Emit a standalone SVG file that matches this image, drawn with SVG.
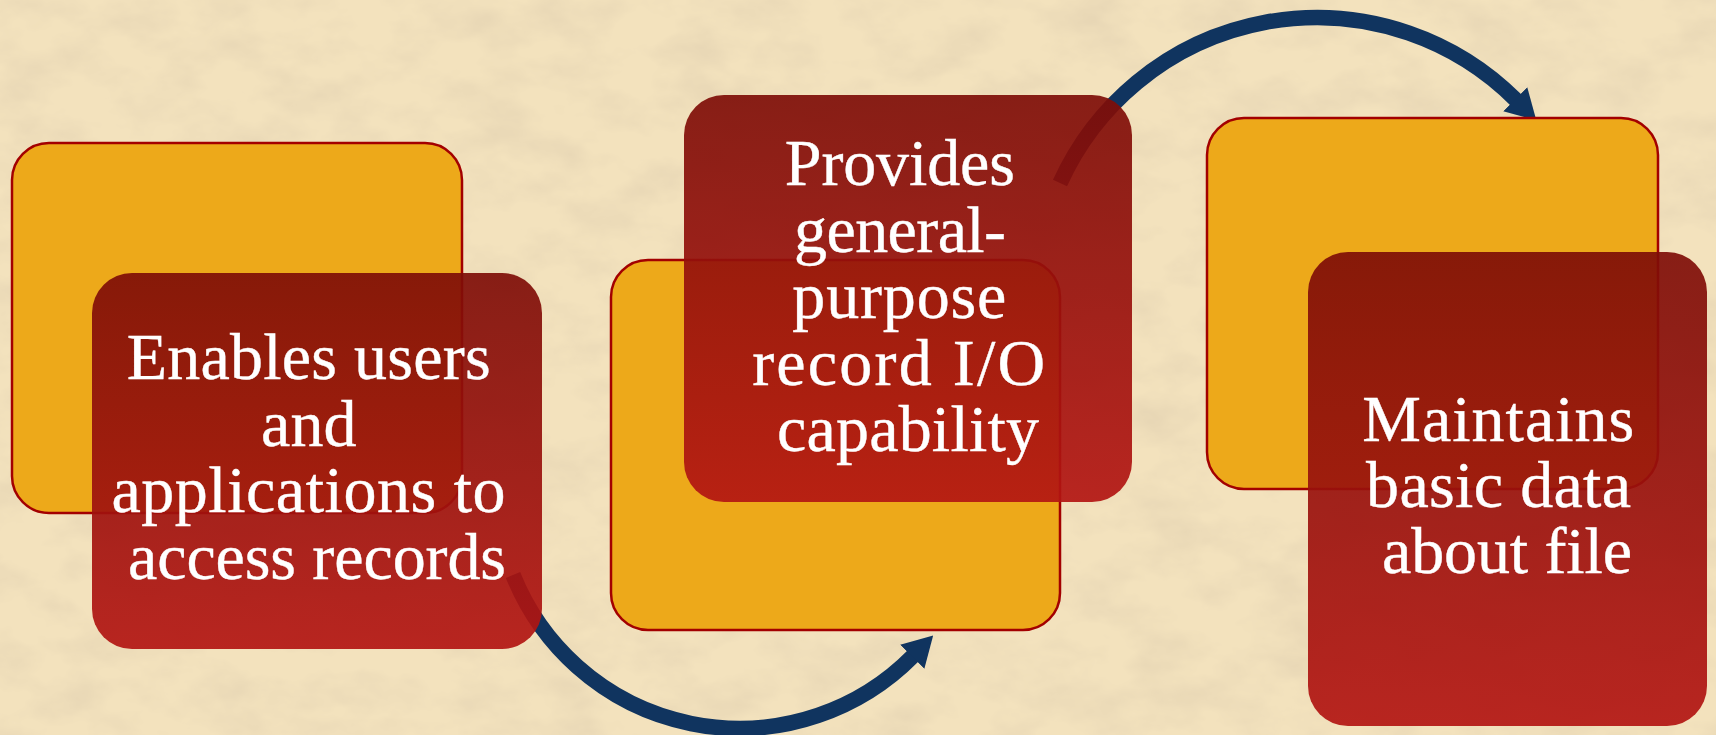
<svg xmlns="http://www.w3.org/2000/svg" width="1716" height="735" viewBox="0 0 1716 735">
  <defs>
    <linearGradient id="redGrad" x1="0" y1="0" x2="0" y2="1">
      <stop offset="0" stop-color="#7e0d07"/>
      <stop offset="1" stop-color="#b31512"/>
    </linearGradient>
    <filter id="paper" x="0" y="0" width="100%" height="100%" filterUnits="userSpaceOnUse">
      <feTurbulence type="fractalNoise" baseFrequency="0.015 0.025" numOctaves="4" seed="7" result="n"/>
      <feColorMatrix in="n" type="matrix" values="0 0 0 0 0.72  0 0 0 0 0.60  0 0 0 0 0.42  1.0 0 0 0 -0.40"/>
    </filter>
    <marker id="head" markerUnits="userSpaceOnUse" markerWidth="30" markerHeight="34" viewBox="0 0 28 32" refX="1" refY="16" orient="auto">
      <path d="M0,0 L28,16 L0,32 Z" fill="#10345f"/>
    </marker>
    <style>
      .orange { fill: #eda91a; stroke: #a30000; stroke-width: 2.5; }
      .red { fill: url(#redGrad); opacity: 0.92; }
      .label { font-family: "Liberation Serif", "Times New Roman", serif; font-size: 66px; fill: #ffffff; stroke: #ffffff; stroke-width: 0.4; text-anchor: middle; }
      .arc { fill: none; stroke: #10345f; stroke-width: 15.5; marker-end: url(#head); }
    </style>
  </defs>

  <g id="background">
    <rect x="0" y="0" width="1716" height="735" fill="#f3e2bd"/>
    <rect x="0" y="0" width="1716" height="735" filter="url(#paper)"/>
  </g>

  <g id="connectors">
    <path class="arc" d="M513,575 A244,244 0 0 0 913,656"/>
    <path class="arc" d="M1060,183 A282,282 0 0 1 1516,100"/>
  </g>

  <g id="node1">
    <rect class="orange" x="12" y="143" width="450" height="370" rx="37"/>
    <rect class="red" x="92" y="273" width="450" height="376" rx="40"/>
    <text class="label">
      <tspan x="317" y="379" textLength="364">Enables users</tspan>
      <tspan x="317" y="445.7">and</tspan>
      <tspan x="317" y="512.3" textLength="394">applications to</tspan>
      <tspan x="317" y="579" textLength="378">access records</tspan>
    </text>
  </g>

  <g id="node2">
    <rect class="orange" x="611" y="260" width="449" height="370" rx="37"/>
    <rect class="red" x="684" y="95" width="448" height="407" rx="40"/>
    <text class="label">
      <tspan x="908" y="185" textLength="230">Provides</tspan>
      <tspan x="908" y="251.5" textLength="212">general-</tspan>
      <tspan x="908" y="318" textLength="214">purpose</tspan>
      <tspan x="908" y="384.5" textLength="293">record I/O</tspan>
      <tspan x="908" y="451" textLength="262">capability</tspan>
    </text>
  </g>

  <g id="node3">
    <rect class="orange" x="1207" y="118" width="451" height="371" rx="37"/>
    <rect class="red" x="1308" y="252" width="399" height="474" rx="40"/>
    <text class="label">
      <tspan x="1507" y="441" textLength="272">Maintains</tspan>
      <tspan x="1507" y="507" textLength="265">basic data</tspan>
      <tspan x="1507" y="573" textLength="250">about file</tspan>
    </text>
  </g>
</svg>
